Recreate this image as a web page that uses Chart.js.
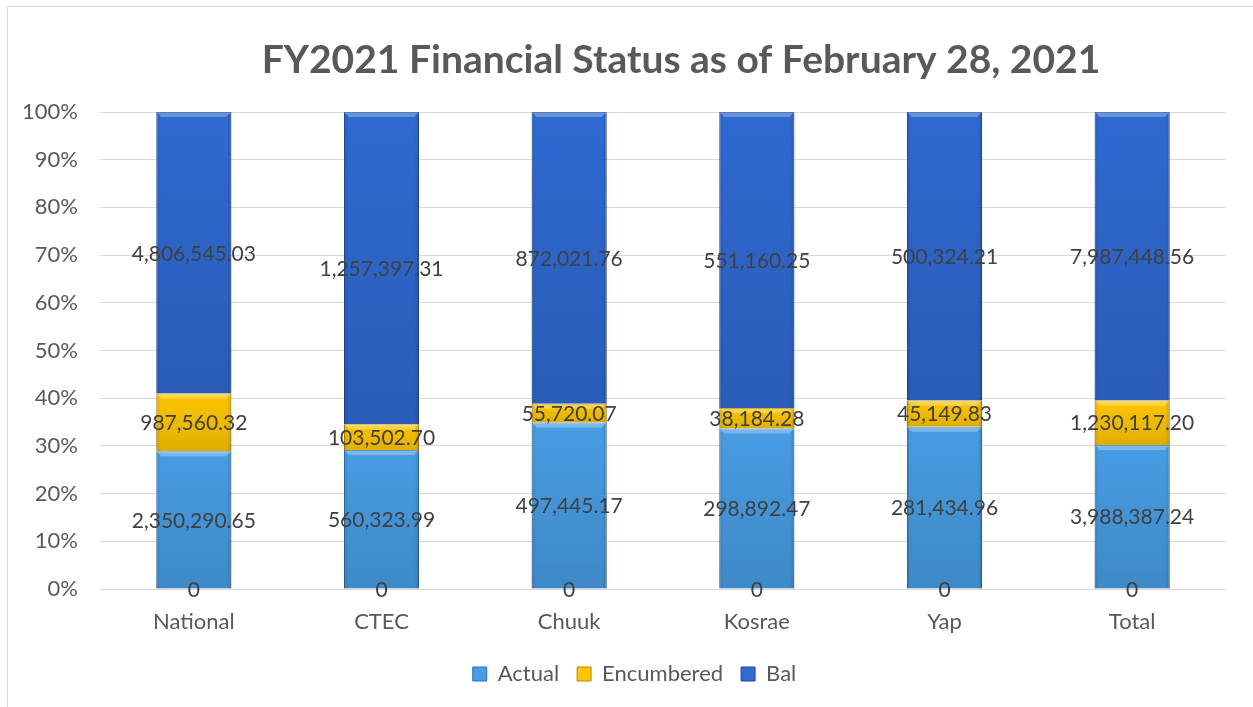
<!DOCTYPE html>
<html>
<head>
<meta charset="utf-8">
<script src="https://cdn.jsdelivr.net/npm/chart.js@4.4.1/dist/chart.umd.min.js"></script>
<style>
  html, body { margin: 0; padding: 0; background: #fff; overflow: hidden; }
  #wrap { position: relative; width: 1253px; height: 707px; }
  #frame { position: absolute; left: 7px; top: 6px; width: 1300px; height: 760px; border: 1px solid #d9d9d9; box-sizing: border-box; }
  canvas { position: absolute; left: 0; top: 0; }
</style>
</head>
<body>
<div id="wrap">
  <div id="frame"></div>
  <canvas id="chart" width="1253" height="707"></canvas>
</div>
<script>
// chart data
const chartTitle = "FY2021 Financial Status as of February 28, 2021";
const categories = ["National", "CTEC", "Chuuk", "Kosrae", "Yap", "Total"];
const zeroValues = [0, 0, 0, 0, 0, 0];
const actual = [2350290.65, 560323.99, 497445.17, 298892.47, 281434.96, 3988387.24];
const encumbered = [987560.32, 103502.70, 55720.07, 38184.28, 45149.83, 1230117.20];
const bal = [4806545.03, 1257397.31, 872021.76, 551160.25, 500324.21, 7987448.56];
const yTicks = [0, 10, 20, 30, 40, 50, 60, 70, 80, 90, 100];

const FONT = "Lato, 'Open Sans', sans-serif";

// 100% stacked: share of each column total
const totals = categories.map((c, i) => zeroValues[i] + actual[i] + encumbered[i] + bal[i]);
const share = arr => arr.map((v, i) => v / totals[i] * 100);

const fmt = v => v === 0 ? "0" : v.toLocaleString("en-US", { minimumFractionDigits: 2, maximumFractionDigits: 2 });

// soft bevel look of the office bars
const bevel = {
    id: "bevel",
    afterDatasetsDraw(chart) {
        const ctx = chart.ctx;
        ctx.save();
        chart.data.datasets.forEach((ds, di) => {
            if (!ds.label) return;
            chart.getDatasetMeta(di).data.forEach(bar => {
                const left = bar.x - bar.width / 2, w = bar.width;
                const top = Math.min(bar.y, bar.base), h = Math.abs(bar.base - bar.y);
                if (h < 1) return;
                let g = ctx.createLinearGradient(0, top, 0, top + h);
                g.addColorStop(0, "rgba(0,0,0,0)");
                g.addColorStop(1, "rgba(0,0,0,0.12)");
                ctx.fillStyle = g;
                ctx.fillRect(left, top, w, h);
                g = ctx.createLinearGradient(left, 0, left + w, 0);
                g.addColorStop(0, "rgba(0,0,0,0.10)");
                g.addColorStop(0.06, "rgba(0,0,0,0)");
                g.addColorStop(0.94, "rgba(0,0,0,0)");
                g.addColorStop(1, "rgba(0,0,0,0.14)");
                ctx.fillStyle = g;
                ctx.fillRect(left, top, w, h);
                const s = Math.min(5, h / 3);
                ctx.fillStyle = "rgba(255,255,255,0.28)";
                ctx.beginPath();
                ctx.moveTo(left, top);
                ctx.lineTo(left + w, top);
                ctx.lineTo(left + w - s, top + s);
                ctx.lineTo(left + s, top + s);
                ctx.closePath();
                ctx.fill();
            });
        });
        ctx.restore();
    }
};

const valueLabels = {
    id: "valueLabels",
    afterDatasetsDraw(chart) {
        const ctx = chart.ctx;
        ctx.save();
        ctx.font = "21px " + FONT;
        ctx.fillStyle = "#404040";
        ctx.textAlign = "center";
        ctx.textBaseline = "middle";
        chart.data.datasets.forEach((ds, di) => {
            const meta = chart.getDatasetMeta(di);
            meta.data.forEach((bar, i) => {
                const y = (bar.y + bar.base) / 2;
                ctx.fillText(fmt(ds.raw[i]), bar.x, y + 1);
            });
        });
        ctx.restore();
    }
};

const titlePlugin = {
    id: "titlePlugin",
    afterDraw(chart) {
        const ctx = chart.ctx;
        ctx.save();
        ctx.font = "bold 39px " + FONT;
        ctx.fillStyle = "#595959";
        ctx.textAlign = "center";
        ctx.textBaseline = "middle";
        ctx.fillText(chartTitle, 681, 60);
        ctx.restore();
    }
};

const ctx = document.getElementById("chart").getContext("2d");
new Chart(ctx, {
    type: "bar",
    data: {
        labels: categories,
        datasets: [
            { label: "", data: share(zeroValues), raw: zeroValues, backgroundColor: "#4597dd", borderWidth: 0 },
            { label: "Actual", data: share(actual), raw: actual, backgroundColor: "#479ce3", borderColor: "#2f6ea8", borderWidth: 1 },
            { label: "Encumbered", data: share(encumbered), raw: encumbered, backgroundColor: "#fec600", borderColor: "#b88a00", borderWidth: 1 },
            { label: "Bal", data: share(bal), raw: bal, backgroundColor: "#2f69d1", borderColor: "#1f4a9a", borderWidth: 1 }
        ]
    },
    options: {
        responsive: false,
        animation: false,
        layout: { padding: { left: 16, right: 0, top: 112, bottom: 12 } },
        datasets: { bar: { barPercentage: 0.4, categoryPercentage: 1 } },
        scales: {
            x: {
                stacked: true,
                afterFit: s => { s.height = 56; },
                grid: { display: false, drawTicks: false },
                border: { display: false },
                ticks: { font: { size: 22, family: FONT }, color: "#595959", padding: 20 }
            },
            y: {
                stacked: true,
                min: 0,
                max: 100,
                afterFit: s => { s.width = 84; },
                afterBuildTicks: s => { s.ticks = yTicks.map(v => ({ value: v })); },
                grid: { color: "#d9d9d9", drawTicks: false },
                border: { display: false },
                ticks: { font: { size: 22, family: FONT }, color: "#595959", padding: 22, callback: v => v + "%" }
            },
            // empty right margin so the chart area ends where the reference does
            spacer: {
                position: "right",
                afterFit: s => { s.width = 27; },
                grid: { display: false, drawTicks: false },
                border: { display: false },
                ticks: { display: false }
            }
        },
        plugins: {
            legend: {
                position: "bottom",
                labels: {
                    filter: item => item.text !== "",
                    boxWidth: 14,
                    boxHeight: 14,
                    padding: 18,
                    color: "#595959",
                    font: { size: 22, family: FONT }
                }
            },
            tooltip: { enabled: false }
        }
    },
    plugins: [bevel, valueLabels, titlePlugin]
});
</script>
</body>
</html>
